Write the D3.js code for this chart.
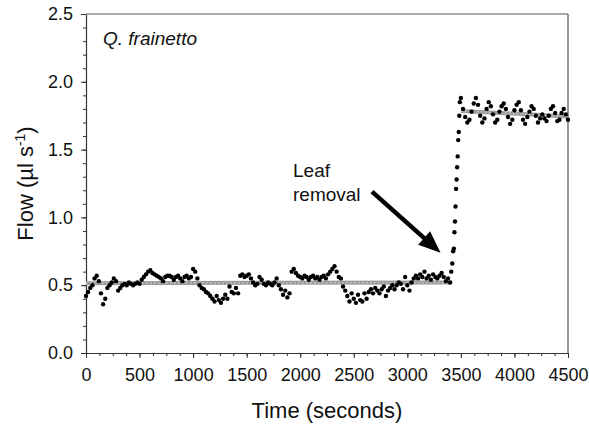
<!DOCTYPE html>
<html>
<head>
<meta charset="utf-8">
<script src="https://cdn.jsdelivr.net/npm/d3@7"></script>
<style>
  body { margin: 0; background: #fff; }
  svg text { font-family: "Liberation Sans", Arial, Helvetica, sans-serif; fill: #111; }
</style>
</head>
<body>
<div id="chart"></div>
<script>
// data
// baseline before leaf removal: one sample every 20 s from t = 0
const lowStart = 0, lowStep = 20;
const lowFlow = [
  0.42,0.45,0.48,0.50,0.55,0.57,0.53,0.44,0.36,0.40, // 0
  0.48,0.50,0.52,0.55,0.53,0.46,0.48,0.50,0.51,0.50, // 200
  0.52,0.51,0.50,0.51,0.52,0.51,0.54,0.56,0.58,0.60, // 400
  0.61,0.59,0.58,0.57,0.56,0.55,0.53,0.56,0.57,0.57, // 600
  0.56,0.54,0.56,0.57,0.55,0.53,0.56,0.57,0.55,0.56, // 800
  0.62,0.60,0.55,0.50,0.48,0.47,0.45,0.44,0.42,0.40, // 1000
  0.38,0.42,0.39,0.37,0.40,0.43,0.40,0.49,0.45,0.44, // 1200
  0.48,0.44,0.57,0.58,0.56,0.57,0.58,0.55,0.52,0.50, // 1400
  0.51,0.56,0.54,0.51,0.50,0.52,0.51,0.50,0.52,0.55, // 1600
  0.50,0.47,0.43,0.46,0.41,0.44,0.60,0.62,0.59,0.57, // 1800
  0.56,0.55,0.57,0.56,0.54,0.56,0.57,0.55,0.56,0.54, // 2000
  0.56,0.57,0.55,0.58,0.60,0.62,0.64,0.60,0.56,0.55, // 2200
  0.49,0.46,0.42,0.38,0.44,0.40,0.37,0.43,0.39,0.38, // 2400
  0.44,0.40,0.45,0.47,0.44,0.48,0.46,0.44,0.47,0.49, // 2600
  0.42,0.46,0.48,0.50,0.47,0.50,0.52,0.51,0.47,0.56, // 2800
  0.50,0.46,0.52,0.55,0.57,0.55,0.58,0.56,0.60,0.55, // 3000
  0.57,0.54,0.58,0.56,0.55,0.57,0.59,0.56,0.53,0.55, // 3200
  0.52                                               // 3400
];

// the jump after the leaf is cut
const riseTime = [3410,3420,3428,3435,3440,3445,3450,3455,3460,3465,3470,3475,3480,3485,3490];
const riseFlow = [0.60,0.66,0.75,0.77,0.89,0.97,1.08,1.21,1.28,1.37,1.45,1.57,1.63,1.75,1.85];

// after removal: one sample every 20 s from t = 3500
const highStart = 3500, highStep = 20;
const highFlow = [
  1.88,1.80,1.74,1.70,1.72,1.78,1.84,1.88,1.83,1.75, // 3500
  1.70,1.73,1.80,1.85,1.82,1.76,1.70,1.72,1.78,1.82, // 3700
  1.84,1.80,1.74,1.69,1.72,1.79,1.83,1.85,1.79,1.72, // 3900
  1.69,1.74,1.78,1.82,1.80,1.75,1.70,1.73,1.76,1.73, // 4100
  1.71,1.75,1.80,1.82,1.77,1.71,1.72,1.77,1.80,1.76, // 4300
  1.72                                               // 4500
];

// grey fitted lines
const fitLowTime = [0, 3400],  fitLowFlow = [0.515, 0.52];
const fitHighTime = [3500, 4500], fitHighFlow = [1.785, 1.745];

const xTicks = [0,500,1000,1500,2000,2500,3000,3500,4000,4500];
const yTicks = [0.0,0.5,1.0,1.5,2.0,2.5];

// annotation arrow, in data units
const arrowFrom = [2670, 1.19], arrowTo = [3310, 0.74];

const W = 589, H = 428;
const margin = {top: 14, right: 21, bottom: 75, left: 86};
const width = W - margin.left - margin.right;
const height = H - margin.top - margin.bottom;

const svg = d3.select("#chart").append("svg")
    .attr("width", W).attr("height", H);
const g = svg.append("g").attr("transform", `translate(${margin.left},${margin.top})`);

const x = d3.scaleLinear().domain([0, 4500]).range([0, width]);
const y = d3.scaleLinear().domain([0, 2.5]).range([height, 0]);

// frame (top + right)
g.append("line").attr("x1", 0).attr("x2", width).attr("y1", 0).attr("y2", 0)
  .attr("stroke", "#555").attr("stroke-width", 1.2);
g.append("line").attr("x1", width).attr("x2", width).attr("y1", 0).attr("y2", height)
  .attr("stroke", "#555").attr("stroke-width", 1.2);

// minor ticks
g.append("g").attr("transform", `translate(0,${height})`)
  .call(d3.axisBottom(x).tickValues(d3.range(0, 4501, 125)).tickSize(3).tickFormat(""))
  .call(a => a.select(".domain").remove());
g.append("g")
  .call(d3.axisLeft(y).tickValues(d3.range(0, 26).map(i => i / 10)).tickSize(3).tickFormat(""))
  .call(a => a.select(".domain").remove());

// major axes
const xAx = g.append("g").attr("transform", `translate(0,${height})`)
  .call(d3.axisBottom(x).tickValues(xTicks).tickSize(5).tickSizeOuter(0).tickPadding(10).tickFormat(d3.format("d")));
const yAx = g.append("g")
  .call(d3.axisLeft(y).tickValues(yTicks).tickSize(5).tickSizeOuter(0).tickPadding(8).tickFormat(d3.format(".1f")));
[xAx, yAx].forEach(a => {
  a.selectAll("text").style("font-size", "18px").attr("fill", "#111");
  a.select(".domain").attr("stroke", "#333").attr("stroke-width", 1.2);
});
g.selectAll(".tick line").attr("stroke", "#333");

// grey fits
const line = d3.line().x(d => x(d[0])).y(d => y(d[1]));
[[fitLowTime, fitLowFlow], [fitHighTime, fitHighFlow]].forEach(([t, f]) => {
  const pts = t.map((v, i) => [v, f[i]]);
  g.append("path").datum(pts).attr("d", line)
    .attr("fill", "none").attr("stroke", "#9a9a9a").attr("stroke-width", 4);
  g.append("path").datum(pts).attr("d", line)
    .attr("fill", "none").attr("stroke", "#d4d4d4").attr("stroke-width", 1.3)
    .attr("stroke-dasharray", "1.5,2.5");
});

// black dots
const pts = [];
lowFlow.forEach((v, i) => pts.push([lowStart + i * lowStep, v]));
riseTime.forEach((t, i) => pts.push([t, riseFlow[i]]));
highFlow.forEach((v, i) => pts.push([highStart + i * highStep, v]));

g.selectAll(".pt").data(pts).join("circle")
  .attr("class", "pt")
  .attr("cx", d => x(d[0])).attr("cy", d => y(d[1]))
  .attr("r", 2.2).attr("fill", "#000");

// species label
g.append("text").attr("x", 17).attr("y", 31)
  .style("font-size", "19px").style("font-style", "italic")
  .text("Q. frainetto");

// leaf removal annotation
const ann = g.append("text").style("font-size", "19px");
ann.append("tspan").attr("x", 207).attr("y", 163).text("Leaf");
ann.append("tspan").attr("x", 207).attr("y", 187).text("removal");

const x1 = x(arrowFrom[0]), y1 = y(arrowFrom[1]);
const x2 = x(arrowTo[0]), y2 = y(arrowTo[1]);
const ang = Math.atan2(y2 - y1, x2 - x1);
const headL = 22, headW = 9;
const bx = x2 - headL * Math.cos(ang), by = y2 - headL * Math.sin(ang);
g.append("line").attr("x1", x1).attr("y1", y1).attr("x2", bx + 2 * Math.cos(ang)).attr("y2", by + 2 * Math.sin(ang))
  .attr("stroke", "#000").attr("stroke-width", 4.5);
g.append("path")
  .attr("d", `M${x2},${y2} L${bx - headW * Math.sin(ang)},${by + headW * Math.cos(ang)} L${bx + headW * Math.sin(ang)},${by - headW * Math.cos(ang)} Z`)
  .attr("fill", "#000");

// axis titles
svg.append("text")
  .attr("x", margin.left + width / 2).attr("y", 418)
  .attr("text-anchor", "middle").style("font-size", "22px")
  .text("Time (seconds)");

svg.append("text")
  .attr("transform", `translate(33,${margin.top + height / 2}) rotate(-90)`)
  .attr("text-anchor", "middle").style("font-size", "22px")
  .call(t => {
    t.append("tspan").text("Flow (\u00b5l s");
    t.append("tspan").attr("dy", -8).style("font-size", "14px").text("-1");
    t.append("tspan").attr("dy", 8).text(")");
  });
</script>
</body>
</html>
